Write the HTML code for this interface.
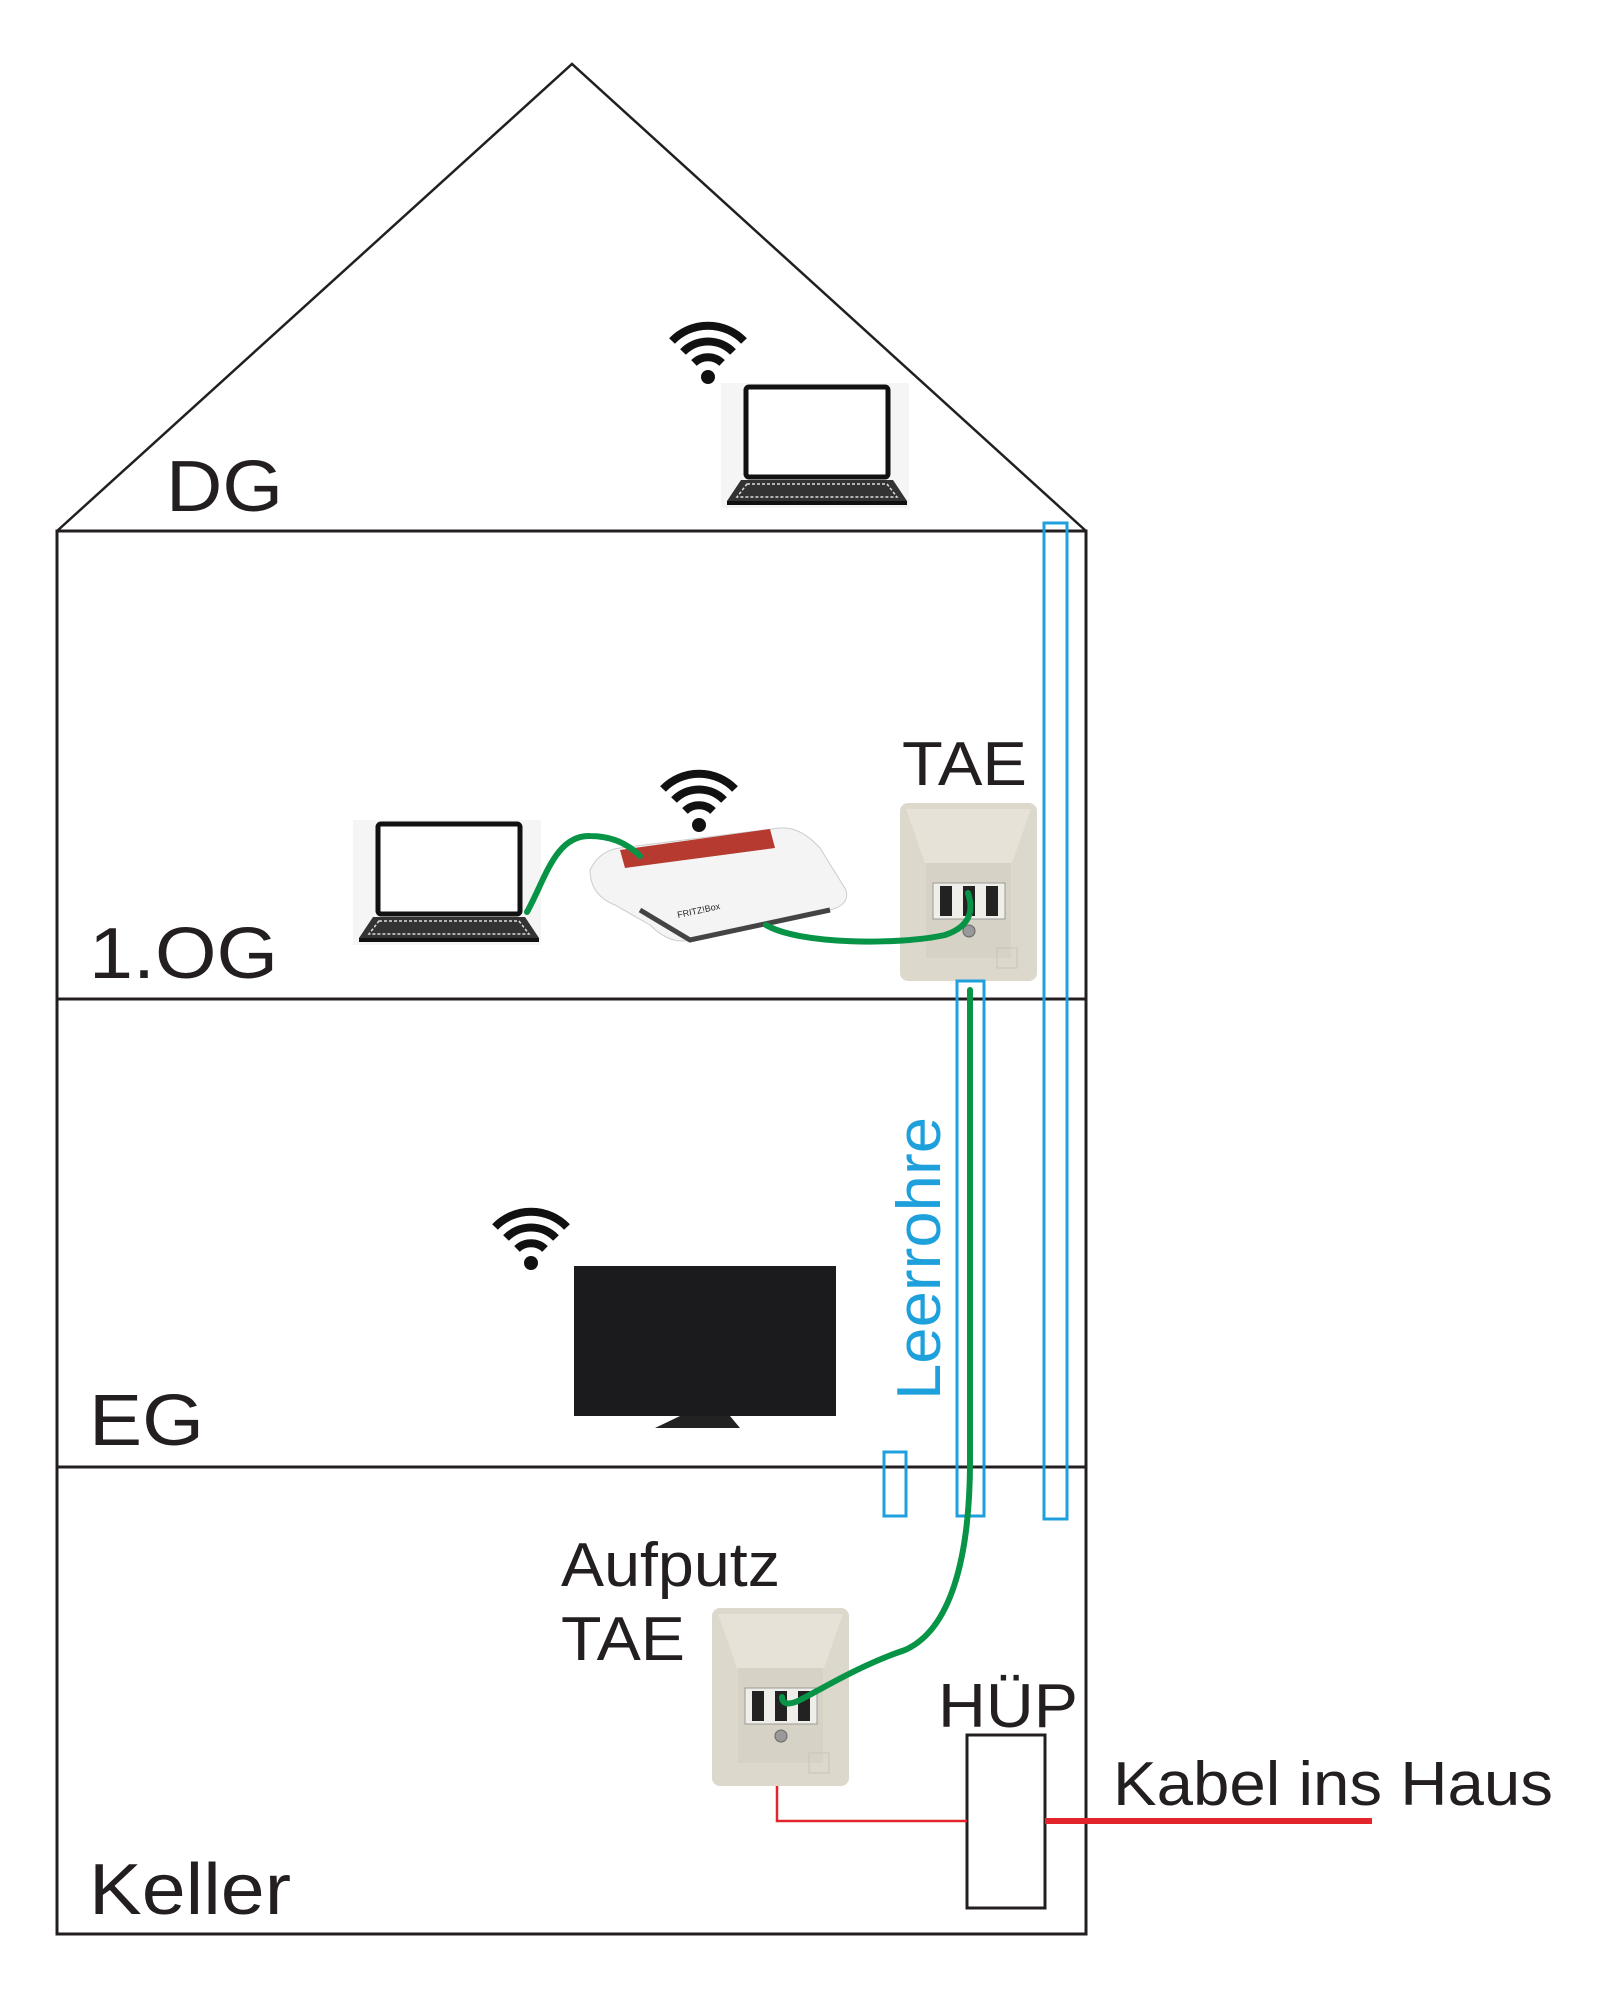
<!DOCTYPE html>
<html><head><meta charset="utf-8"><style>
html,body{margin:0;padding:0;background:#fff;}
svg{display:block;}
text{font-family:"Liberation Sans",sans-serif;fill:#231f20;}
</style></head><body>
<svg width="1600" height="2000" viewBox="0 0 1600 2000" xmlns="http://www.w3.org/2000/svg">
<defs>
<g id="tae">
  <rect x="0" y="0" width="137" height="178" rx="8" fill="#dcd8cc"/>
  <path d="M6 6 L131 6 L112 60 L25 60 Z" fill="#e6e2d8"/>
  <rect x="26" y="60" width="85" height="95" fill="#d6d2c5"/>
  <rect x="33" y="80" width="72" height="36" fill="#f0eee8" stroke="#999" stroke-width="1"/>
  <rect x="40" y="83" width="12" height="30" fill="#222"/>
  <rect x="63" y="83" width="12" height="30" fill="#222"/>
  <rect x="86" y="83" width="12" height="30" fill="#222"/>
  <circle cx="69" cy="128" r="6" fill="#999" stroke="#666"/>
  <rect x="97" y="145" width="20" height="20" fill="none" stroke="#c8c4b8"/>
</g>
<g id="wifi">
  <circle cx="0" cy="0" r="7" fill="#111"/>
  <path d="M-14 -14 A20 20 0 0 1 14 -14" fill="none" stroke="#111" stroke-width="8"/>
  <path d="M-25 -25 A35 35 0 0 1 25 -25" fill="none" stroke="#111" stroke-width="8"/>
  <path d="M-36 -36 A50 50 0 0 1 36 -36" fill="none" stroke="#111" stroke-width="8"/>
</g>
<g id="laptop">
  <rect x="0" y="0" width="188" height="125" fill="#f5f5f5"/>
  <rect x="25" y="4" width="142" height="90" rx="3" fill="#fff" stroke="#111" stroke-width="5"/>
  <path d="M20 97 L172 97 L186 118 L6 118 Z" fill="#333"/>
  <path d="M26 101 L166 101 L176 114 L16 114 Z" fill="none" stroke="#ddd" stroke-width="1.5" stroke-dasharray="3 2"/>
  <rect x="6" y="118" width="180" height="4" fill="#111"/>
</g>
</defs>

<!-- house -->
<polyline points="57,531 572,64 1086,531" fill="none" stroke="#231f20" stroke-width="2.5"/>
<rect x="57" y="531" width="1029" height="1403" fill="none" stroke="#231f20" stroke-width="3"/>
<line x1="57" y1="999" x2="1086" y2="999" stroke="#231f20" stroke-width="3"/>
<line x1="57" y1="1467" x2="1086" y2="1467" stroke="#231f20" stroke-width="3"/>

<text x="166" y="511" font-size="72" textLength="117" lengthAdjust="spacingAndGlyphs">DG</text>
<text x="89" y="978" font-size="72" textLength="189" lengthAdjust="spacingAndGlyphs">1.OG</text>
<text x="89" y="1445" font-size="72" textLength="115" lengthAdjust="spacingAndGlyphs">EG</text>
<text x="89" y="1914" font-size="72" textLength="202" lengthAdjust="spacingAndGlyphs">Keller</text>

<!-- DG -->
<use href="#wifi" x="708" y="377"/>
<use href="#laptop" x="721" y="383"/>

<!-- 1.OG -->
<use href="#laptop" x="353" y="820"/>
<use href="#wifi" x="699" y="825"/>
<g>
  <path d="M590 870 Q600 850 620 848 L780 828 Q800 826 820 848 L846 890 Q850 905 830 910 L690 940 Q670 945 650 925 L615 905 Q590 895 590 870 Z" fill="#f4f4f4" stroke="#ccc"/>
  <path d="M620 850 L770 829 L775 848 L625 868 Z" fill="#b63a30"/>
  <path d="M640 910 L690 940 L830 910" fill="none" stroke="#444" stroke-width="5"/>
  <text x="678" y="918" font-size="9" transform="rotate(-12 678 918)">FRITZ!Box</text>
</g>
<text x="902" y="785" font-size="62" textLength="125" lengthAdjust="spacingAndGlyphs">TAE</text>
<use href="#tae" x="900" y="803"/>

<!-- blue tubes -->
<rect x="1044" y="523" width="23" height="996" fill="none" stroke="#1ea0dc" stroke-width="3"/>
<rect x="957" y="981" width="27" height="535" fill="none" stroke="#1ea0dc" stroke-width="3"/>
<rect x="884" y="1452" width="22" height="64" fill="none" stroke="#1ea0dc" stroke-width="3"/>
<text transform="translate(940 1400) rotate(-90)" font-size="62" textLength="283" lengthAdjust="spacingAndGlyphs" style="fill:#1ea0dc">Leerrohre</text>

<!-- EG TV -->
<use href="#wifi" x="531" y="1263"/>
<rect x="574" y="1266" width="262" height="150" fill="#1b1b1d"/>
<path d="M680 1416 L730 1416 L740 1428 L655 1428 Z" fill="#222"/>

<!-- Keller -->
<text x="561" y="1586" font-size="62" textLength="219" lengthAdjust="spacingAndGlyphs">Aufputz</text>
<text x="561" y="1660" font-size="62" textLength="124" lengthAdjust="spacingAndGlyphs">TAE</text>
<use href="#tae" x="712" y="1608"/>
<text x="938" y="1727" font-size="62" textLength="140" lengthAdjust="spacingAndGlyphs">HÜP</text>
<rect x="967" y="1735" width="78" height="173" fill="#fff" stroke="#231f20" stroke-width="3"/>
<polyline points="777,1786 777,1821 967,1821" fill="none" stroke="#e3242b" stroke-width="2.5"/>
<line x1="1045" y1="1821" x2="1372" y2="1821" stroke="#e3242b" stroke-width="6"/>
<text x="1113" y="1805" font-size="62" textLength="440" lengthAdjust="spacingAndGlyphs">Kabel ins Haus</text>

<!-- green cables -->
<g fill="none" stroke="#079447" stroke-width="6" stroke-linecap="round">
  <path d="M527 912 C545 880 555 835 590 836 C615 836 630 846 640 856"/>
  <path d="M766 925 C800 945 900 945 945 935 C975 925 972 905 968 893"/>
  <path d="M970 990 L970 1460 C970 1560 950 1630 905 1650 C860 1665 820 1690 800 1700 C790 1705 782 1705 782 1697"/>
</g>
</svg>
</body></html>
